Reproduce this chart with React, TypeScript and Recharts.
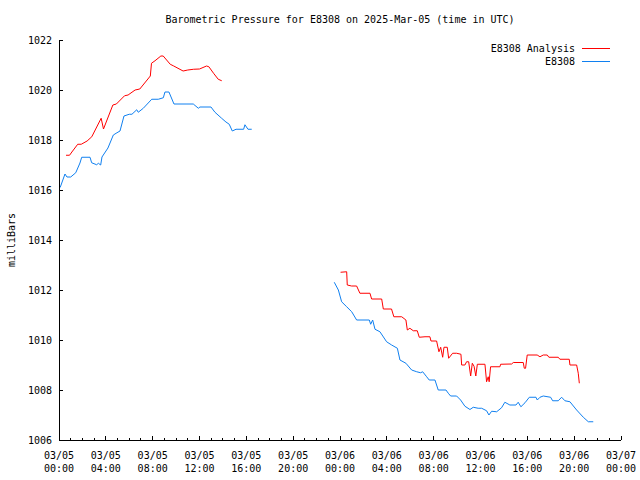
/* Barometric pressure for E8308 — analysis vs station, 2025-Mar-05/06 (UTC) */
import { LineChart, Line, XAxis, YAxis, Legend } from 'recharts';

const FONT = '"DejaVu Sans Mono", monospace';
const RED = '#ff0000';
const BLUE = '#1080f0';

// hours since 03/05 00:00 UTC, pressure in mb
const analysisHoursA = [0.6, 0.9, 1.1, 1.6, 1.9, 2.4, 2.8, 3.6, 3.8, 4.6, 4.9, 5.6, 5.9, 6.5, 6.9, 7.8, 7.9, 8.2, 8.7, 8.9, 9.5, 9.8, 10.6, 11.0, 11.5, 12.0, 12.6, 12.8, 13.2, 13.6, 13.9];
const analysisValuesA = [1017.39, 1017.39, 1017.52, 1017.83, 1017.83, 1017.96, 1018.13, 1018.87, 1018.44, 1019.4, 1019.44, 1019.77, 1019.8, 1020.0, 1020.04, 1020.56, 1021.07, 1021.17, 1021.36, 1021.36, 1021.03, 1020.96, 1020.76, 1020.8, 1020.83, 1020.84, 1020.96, 1020.93, 1020.67, 1020.43, 1020.37];

const analysisHoursB = [24.05, 24.57, 24.62, 24.99, 25.42, 25.7, 26.56, 26.7, 27.56, 27.7, 28.4, 28.6, 29.27, 29.63, 29.75, 29.97, 30.26, 30.6, 30.77, 31.26, 31.68, 31.77, 32.25, 32.45, 32.6, 32.77, 32.88, 33.16, 33.28, 33.62, 33.96, 34.33, 34.39, 34.67, 34.81, 34.99, 35.16, 35.3, 35.45, 35.6, 35.73, 36.38, 36.52, 36.66, 36.74, 36.86, 37.66, 37.72, 38.66, 38.8, 39.65, 39.74, 39.85, 39.99, 40.84, 41.08, 41.36, 41.7, 41.84, 42.64, 42.78, 43.58, 43.64, 44.21, 44.35, 44.44];
const analysisValuesB = [1012.71, 1012.73, 1012.2, 1012.16, 1012.16, 1011.87, 1011.87, 1011.64, 1011.64, 1011.24, 1011.24, 1010.93, 1010.93, 1010.8, 1010.4, 1010.47, 1010.37, 1010.37, 1010.11, 1010.13, 1010.13, 1009.96, 1009.96, 1009.53, 1009.71, 1009.31, 1009.71, 1009.71, 1009.27, 1009.47, 1009.47, 1009.43, 1009.0, 1009.0, 1009.13, 1009.13, 1008.56, 1009.07, 1008.95, 1008.56, 1009.03, 1009.03, 1008.33, 1008.53, 1008.33, 1008.93, 1008.93, 1009.03, 1009.04, 1009.1, 1009.1, 1008.87, 1008.87, 1009.4, 1009.4, 1009.33, 1009.4, 1009.4, 1009.31, 1009.31, 1009.23, 1009.23, 1009.0, 1009.0, 1008.67, 1008.27];

const stationHoursA = [0.1, 0.51, 0.68, 1.0, 1.43, 1.79, 1.94, 2.65, 2.79, 3.22, 3.36, 3.56, 3.67, 4.18, 4.64, 4.95, 5.21, 5.55, 6.0, 6.23, 6.64, 6.77, 7.2, 7.92, 8.48, 8.91, 9.05, 9.39, 9.82, 10.93, 11.47, 11.9, 12.04, 12.98, 13.32, 13.89, 14.26, 14.54, 14.8, 15.12, 15.77, 15.88, 16.14, 16.46];
const stationValuesA = [1016.1, 1016.64, 1016.52, 1016.52, 1016.69, 1017.08, 1017.31, 1017.31, 1017.09, 1017.01, 1017.07, 1017.0, 1017.32, 1017.68, 1018.2, 1018.29, 1018.36, 1018.96, 1019.03, 1019.03, 1019.21, 1019.11, 1019.27, 1019.63, 1019.63, 1019.69, 1019.92, 1019.92, 1019.44, 1019.44, 1019.44, 1019.27, 1019.32, 1019.32, 1019.11, 1018.87, 1018.72, 1018.63, 1018.36, 1018.43, 1018.43, 1018.61, 1018.43, 1018.43];

const stationHoursB = [23.51, 23.86, 24.14, 24.57, 25.0, 25.42, 26.5, 26.62, 26.79, 26.99, 27.41, 27.98, 28.41, 28.9, 29.12, 29.63, 30.12, 30.55, 30.89, 31.06, 31.4, 31.62, 32.11, 32.39, 33.05, 33.25, 33.45, 33.96, 34.3, 34.67, 35.1, 35.38, 35.8, 36.1, 36.52, 36.72, 36.95, 37.38, 37.8, 38.08, 38.51, 39.03, 39.22, 39.45, 39.8, 40.17, 40.74, 40.85, 41.08, 41.36, 41.99, 42.16, 42.64, 42.93, 43.21, 43.64, 43.93, 44.21, 44.78, 45.21, 45.63];
const stationValuesB = [1012.31, 1012.0, 1011.53, 1011.33, 1011.13, 1010.8, 1010.8, 1010.63, 1010.8, 1010.43, 1010.33, 1009.93, 1009.8, 1009.67, 1009.2, 1009.07, 1008.8, 1008.73, 1008.69, 1008.73, 1008.53, 1008.4, 1008.4, 1008.0, 1008.0, 1007.87, 1007.76, 1007.76, 1007.6, 1007.35, 1007.22, 1007.31, 1007.27, 1007.27, 1007.17, 1007.0, 1007.15, 1007.13, 1007.29, 1007.51, 1007.4, 1007.4, 1007.51, 1007.33, 1007.49, 1007.71, 1007.71, 1007.6, 1007.71, 1007.76, 1007.71, 1007.57, 1007.57, 1007.71, 1007.57, 1007.53, 1007.36, 1007.2, 1006.91, 1006.73, 1006.73];

const dateLabels = ['03/05', '03/05', '03/05', '03/05', '03/05', '03/05', '03/06', '03/06', '03/06', '03/06', '03/06', '03/06', '03/07'];
const timeLabels = ['00:00', '04:00', '08:00', '12:00', '16:00', '20:00', '00:00', '04:00', '08:00', '12:00', '16:00', '20:00', '00:00'];
const yTicks = [1006, 1008, 1010, 1012, 1014, 1016, 1018, 1020, 1022];
const hourTicks = Array.from({ length: 49 }, (_, i) => i);

const zip = (hs: number[], vs: number[]) => hs.map((h, i) => ({ h, v: vs[i] }));
const analysisA = zip(analysisHoursA, analysisValuesA);
const analysisB = zip(analysisHoursB, analysisValuesB);
const stationA = zip(stationHoursA, stationValuesA);
const stationB = zip(stationHoursB, stationValuesB);

const legendItems = [
  { name: 'E8308 Analysis', color: RED },
  { name: 'E8308', color: BLUE },
];

function BottomTick({ x, y, payload }: any) {
  const major = payload.value % 4 === 0;
  const i = payload.value / 4;
  return (
    <g>
      <line x1={x} x2={x} y1={y} y2={y - (major ? 4 : 2)} stroke="#000" shapeRendering="crispEdges" />
      {major && (
        <text x={x} textAnchor="middle" fontFamily={FONT} fontSize={10} fill="#000">
          <tspan x={x} y={y + 19}>{dateLabels[i]}</tspan>
          <tspan x={x} y={y + 32}>{timeLabels[i]}</tspan>
        </text>
      )}
    </g>
  );
}

function TopTick({ x, y, payload }: any) {
  const major = payload.value % 4 === 0;
  return <line x1={x} x2={x} y1={y} y2={y + (major ? 4 : 2)} stroke="#000" shapeRendering="crispEdges" />;
}

function LeftTick({ x, y, payload }: any) {
  return (
    <g>
      <line x1={x} x2={x + 4} y1={y} y2={y} stroke="#000" shapeRendering="crispEdges" />
      <text x={x - 7} y={y + 4} textAnchor="end" fontFamily={FONT} fontSize={10} fill="#000">
        {payload.value}
      </text>
    </g>
  );
}

function RightTick({ x, y }: any) {
  return <line x1={x} x2={x - 4} y1={y} y2={y} stroke="#000" shapeRendering="crispEdges" />;
}

function LegendBox() {
  return (
    <div style={{ fontFamily: FONT, fontSize: 10 }}>
      {legendItems.map((it) => (
        <div key={it.name} style={{ display: 'flex', justifyContent: 'flex-end', alignItems: 'center', height: 13 }}>
          <span>{it.name}</span>
          <span style={{ display: 'inline-block', width: 28, height: 1, background: it.color, margin: '0 10px 0 7px' }} />
        </div>
      ))}
    </div>
  );
}

export default function App() {
  const lineProps = {
    xAxisId: 'b', yAxisId: 'l', dataKey: 'v', type: 'linear' as const,
    dot: false, activeDot: false, strokeWidth: 1, isAnimationActive: false,
  };
  return (
    <div style={{ position: 'absolute', left: 0, top: 0, width: 640, height: 480, background: '#fff' }}>
      <div style={{
        position: 'absolute', left: 59, top: 13, width: 562, textAlign: 'center',
        fontFamily: FONT, fontSize: 10, lineHeight: '14px', color: '#000',
      }}>
        Barometric Pressure for E8308 on 2025-Mar-05 (time in UTC)
      </div>
      <LineChart width={640} height={480} margin={{ top: 40, right: 19, bottom: 0, left: 0 }}>
        <XAxis
          xAxisId="b" dataKey="h" type="number" domain={[0, 48]} ticks={hourTicks} interval={0}
          allowDataOverflow height={40} tickSize={0} tickMargin={0} tickLine={false}
          axisLine={{ stroke: '#000', shapeRendering: 'crispEdges' }} tick={<BottomTick />}
        />
        <XAxis
          xAxisId="t" orientation="top" dataKey="h" type="number" domain={[0, 48]} ticks={hourTicks}
          interval={0} allowDataOverflow height={0} tickSize={0} tickMargin={0} tickLine={false}
          axisLine={{ stroke: '#000', shapeRendering: 'crispEdges' }} tick={<TopTick />}
        />
        <YAxis
          yAxisId="l" type="number" domain={[1006, 1022]} ticks={yTicks} interval={0} allowDataOverflow
          width={59} tickSize={0} tickMargin={0} tickLine={false}
          axisLine={{ stroke: '#000', shapeRendering: 'crispEdges' }} tick={<LeftTick />}
          label={{
            content: ({ viewBox }: any) => (
              <text
                x={11} y={viewBox.y + viewBox.height / 2} textAnchor="middle" dominantBaseline="central"
                transform={`rotate(-90, 11, ${viewBox.y + viewBox.height / 2})`}
                fontFamily={FONT} fontSize={10} fill="#000"
              >
                milliBars
              </text>
            ),
          }}
        />
        <YAxis
          yAxisId="r" orientation="right" type="number" domain={[1006, 1022]} ticks={yTicks} interval={0}
          allowDataOverflow width={0} tickSize={0} tickMargin={0} tickLine={false}
          axisLine={{ stroke: '#000', shapeRendering: 'crispEdges' }} tick={<RightTick />}
        />
        <Legend
          layout="vertical" align="center" verticalAlign="middle"
          wrapperStyle={{ top: 42, left: 420, width: 200 }} content={<LegendBox />}
        />
        <Line {...lineProps} data={analysisA} name="E8308 Analysis" stroke={RED} />
        <Line {...lineProps} data={analysisB} name="E8308 Analysis " stroke={RED} legendType="none" />
        <Line {...lineProps} data={stationA} name="E8308" stroke={BLUE} />
        <Line {...lineProps} data={stationB} name="E8308 " stroke={BLUE} legendType="none" />
      </LineChart>
    </div>
  );
}
